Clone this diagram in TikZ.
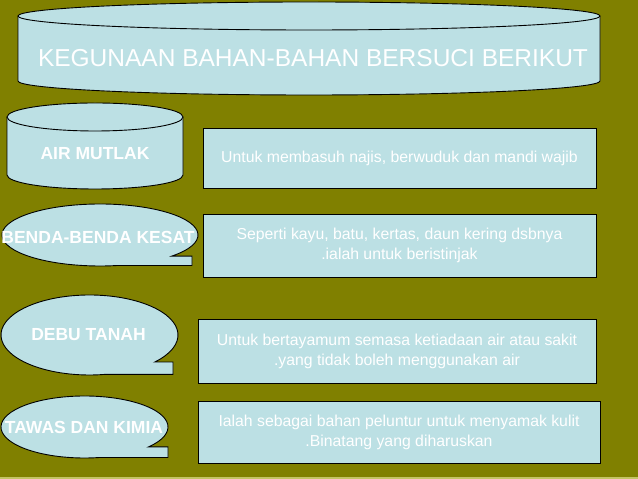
\documentclass[tikz,border=0pt]{standalone}
\usepackage{fontspec}
\setmainfont{Liberation Sans}
\definecolor{zaitun}{RGB}{128,128,0}
\definecolor{biru}{RGB}{188,224,228}
\definecolor{jalur}{RGB}{196,196,100}
\tikzset{
  bentuk/.style={fill=biru, draw=black, line width=.9pt},
  label/.style={text=white, font=\fontsize{17.5}{20}\selectfont\bfseries, inner sep=0},
  isi/.style={bentuk, text=white, align=center, inner sep=0,
    font=\fontsize{15.8}{20}\selectfont},
}

\begin{document}
\begin{tikzpicture}[x=1pt, y=1pt]
\fill[zaitun] (0,0) rectangle (638,479);
\fill[jalur] (0,0.3) rectangle (638,2);
\useasboundingbox (0,0) rectangle (638,479);

\fill[biru] (18,463) -- (18,398) arc[start angle=180, end angle=360, x radius=291pt, y radius=14pt] -- (600,463) -- cycle;
\draw[line width=.9pt] (18,463) -- (18,398) arc[start angle=180, end angle=360, x radius=291pt, y radius=14pt] -- (600,463);
\draw[bentuk] (309,463) ellipse[x radius=291pt, y radius=14pt];
\node[text=white, font=\fontsize{24.5}{28}\selectfont, inner sep=0] (judul) at (313,421) {KEGUNAAN BAHAN-BAHAN BERSUCI BERIKUT};

\fill[biru] (7,362) -- (7,304) arc[start angle=180, end angle=360, x radius=88pt, y radius=14pt] -- (183,362) -- cycle;
\draw[line width=.9pt] (7,362) -- (7,304) arc[start angle=180, end angle=360, x radius=88pt, y radius=14pt] -- (183,362);
\draw[bentuk] (95,362) ellipse[x radius=88pt, y radius=14pt];
\node[label] (air) at (95,325) {AIR MUTLAK};

\foreach \cx/\cy/\rx/\ry/\a/\ka in {100/244/98/31/-43/192, 89.5/144/88.5/40/-42.5/173, 84.5/52/83.5/31/-40/168}
  \draw[bentuk] (\cx,\cy) ++(\a:\rx pt and \ry pt) arc[start angle=\a, end angle=280, x radius=\rx pt, y radius=\ry pt] -| (\ka,{\cy+\ry*sin(\a)}) -- cycle;
\node[label] (benda) at (98,242) {BENDA-BENDA KESAT};
\node[label] (debu) at (88.5,144) {DEBU TANAH};
\node[label] (tawas) at (84,52) {TAWAS DAN KIMIA};

\foreach \n/\x/\y/\w/\h/\teks in {
  1/399.5/321/393/60/{Untuk membasuh najis, berwuduk dan mandi wajib},
  2/399.5/233.5/393/63/{Seperti kayu, batu, kertas, daun kering dsbnya\\.ialah untuk beristinjak},
  3/397/128/398/64/{Untuk bertayamum semasa ketiadaan air atau sakit\\.yang tidak boleh menggunakan air},
  4/399/47/402/62/{Ialah sebagai bahan peluntur untuk menyamak kulit\\.Binatang yang diharuskan}}
  \node[isi, minimum width=\w pt, minimum height=\h pt] (isi\n) at (\x,\y) {\teks};
\end{tikzpicture}
\end{document}
